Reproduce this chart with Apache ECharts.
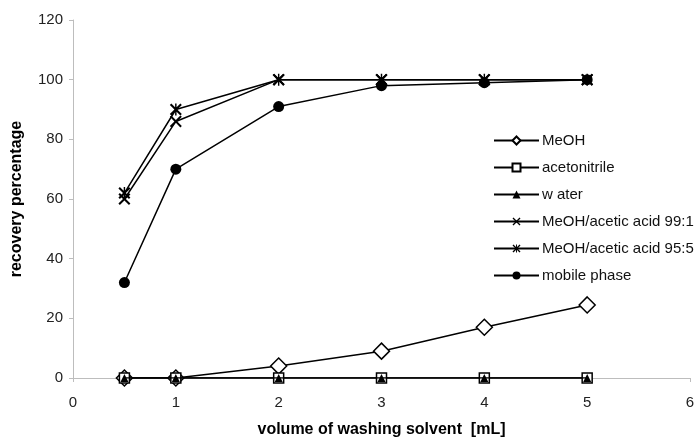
<!DOCTYPE html>
<html><head><meta charset="utf-8">
<script src="https://cdn.jsdelivr.net/npm/echarts@6/dist/echarts.min.js"></script>
<style>html,body{margin:0;padding:0;background:#fff}#c{width:695px;height:439px}</style>
</head><body><div id="c"></div>
<script>
const volumes = [0.5, 1, 2, 3, 4, 5];
const seriesNames = ["MeOH", "acetonitrile", "w ater", "MeOH/acetic acid 99:1", "MeOH/acetic acid 95:5", "mobile phase"];
const meoh = [0, 0, 4, 9, 17, 24.5];
const acetonitrile = [0, 0, 0, 0, 0, 0];
const water = [0, 0, 0, 0, 0, 0];
const acetic991 = [60, 86, 100, 100, 100, 100];
const acetic955 = [62, 90, 100, 100, 100, 100];
const mobilePhase = [32, 70, 91, 98, 99, 100];
const xTicks = [0, 1, 2, 3, 4, 5, 6];
const yTicks = [0, 20, 40, 60, 80, 100, 120];

const crossPath = 'path://M0,1.2 L1.2,0 L5,3.8 L8.8,0 L10,1.2 L6.2,5 L10,8.8 L8.8,10 L5,6.2 L1.2,10 L0,8.8 L3.8,5 Z';
const starPath = 'path://M0,1.2 L1.2,0 L5,3.8 L8.8,0 L10,1.2 L6.2,5 L10,8.8 L8.8,10 L5,6.2 L1.2,10 L0,8.8 L3.8,5 Z M4.4,0 L5.6,0 L5.6,10 L4.4,10 Z';

const allData = [meoh, acetonitrile, water, acetic991, acetic955, mobilePhase];
const styles = [
  {symbol: 'diamond', symbolSize: 16, color: '#fff', border: '#000', bw: 1.5},
  {symbol: 'rect', symbolSize: 10, color: '#fff', border: '#000', bw: 1.5},
  {symbol: 'triangle', symbolSize: 8, color: '#000', border: '#000', bw: 0},
  {symbol: crossPath, symbolSize: 12, color: '#000', border: '#000', bw: 0},
  {symbol: starPath, symbolSize: 12, color: '#000', border: '#000', bw: 0},
  {symbol: 'circle', symbolSize: 11, color: '#000', border: '#000', bw: 0}
];

const series = allData.map((d, i) => ({
  name: seriesNames[i],
  type: 'line',
  data: volumes.map((v, j) => [v, d[j]]),
  symbol: styles[i].symbol,
  symbolSize: styles[i].symbolSize,
  showAllSymbol: true,
  lineStyle: {color: '#000', width: 1.5},
  itemStyle: {color: styles[i].color, borderColor: styles[i].border, borderWidth: styles[i].bw, opacity: 1},
  emphasis: {disabled: true},
  animation: false,
  z: 2 + i
}));

const font = 'Liberation Sans, Arial';
const chart = echarts.init(document.getElementById('c'), null, {renderer: 'canvas'});
chart.setOption({
  backgroundColor: '#fff',
  animation: false,
  grid: {left: 73, right: 5, top: 20, bottom: 61, containLabel: false, outerBoundsMode: 'none'},
  legend: {
    orient: 'vertical', left: 488, top: 128,
    itemWidth: 45, itemHeight: 10, itemGap: 12,
    textStyle: {fontFamily: font, fontSize: 15, color: '#111', padding: [0, 0, 0, -2]},
    data: seriesNames
  },
  xAxis: {
    type: 'value', min: 0, max: 6, interval: 1,
    name: 'volume of washing solvent  [mL]', nameLocation: 'middle', nameGap: 44,
    nameTextStyle: {fontFamily: font, fontSize: 16, fontWeight: 'bold', color: '#000'},
    axisLine: {show: true, lineStyle: {color: '#bdbdbd', width: 1}},
    axisTick: {show: true, length: 4, lineStyle: {color: '#bdbdbd'}},
    axisLabel: {fontFamily: font, fontSize: 15, color: '#222', margin: 17,
      formatter: v => xTicks.includes(v) ? String(v) : ''},
    splitLine: {show: false}
  },
  yAxis: {
    type: 'value', min: 0, max: 120, interval: 20,
    name: 'recovery percentage', nameLocation: 'middle', nameGap: 48,
    nameTextStyle: {fontFamily: font, fontSize: 16, fontWeight: 'bold', color: '#000'},
    axisLine: {show: true, lineStyle: {color: '#bdbdbd', width: 1}},
    axisTick: {show: true, length: 4, lineStyle: {color: '#bdbdbd'}},
    axisLabel: {fontFamily: font, fontSize: 15, color: '#222', margin: 10,
      formatter: v => yTicks.includes(v) ? String(v) : ''},
    splitLine: {show: false}
  },
  series: series
});
</script></body></html>
